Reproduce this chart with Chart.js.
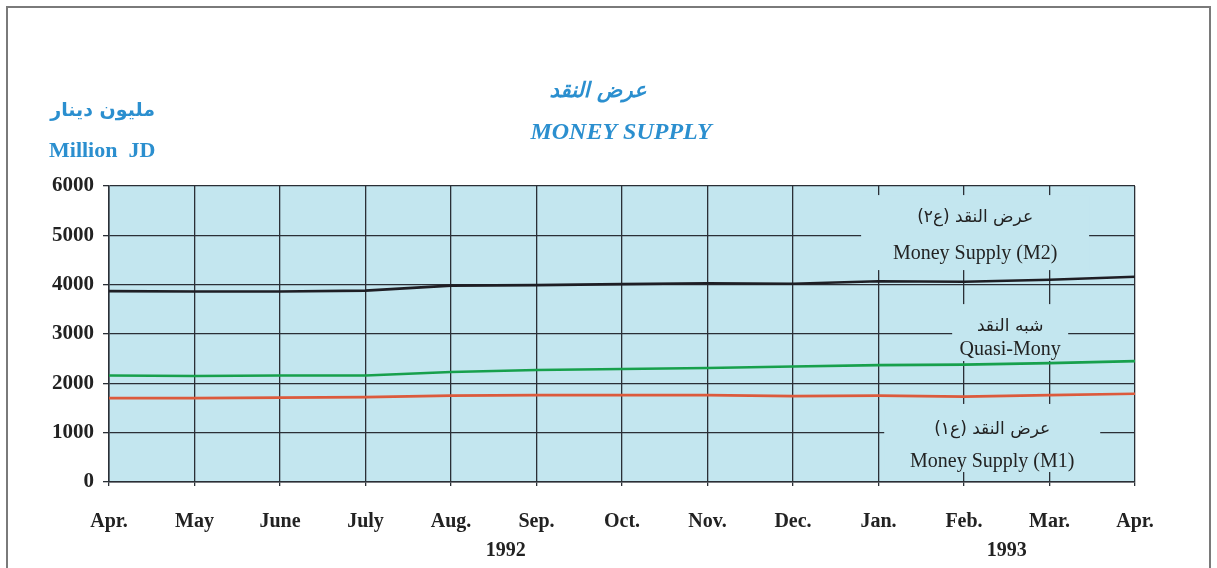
<!DOCTYPE html>
<html>
<head>
<meta charset="utf-8">
<script src="https://cdn.jsdelivr.net/npm/chart.js@4.4.1/dist/chart.umd.min.js"></script>
<style>
  html, body { margin: 0; padding: 0; background: #fff; }
  #wrap { width: 1217px; height: 568px; position: relative; }
</style>
</head>
<body>
<div id="wrap"><canvas id="chart"></canvas></div>
<script>
// Données (millions JD), avril 1992 -> avril 1993
const months = ['Apr.', 'May', 'June', 'July', 'Aug.', 'Sep.', 'Oct.', 'Nov.', 'Dec.', 'Jan.', 'Feb.', 'Mar.', 'Apr.'];
const m2Values = [3870, 3860, 3860, 3880, 3980, 3990, 4010, 4030, 4020, 4070, 4060, 4100, 4160];
const quasiValues = [2160, 2150, 2160, 2160, 2230, 2270, 2290, 2310, 2340, 2370, 2380, 2410, 2450];
const m1Values = [1700, 1700, 1710, 1720, 1750, 1760, 1760, 1760, 1740, 1750, 1730, 1760, 1790];
const yTicks = [0, 1000, 2000, 3000, 4000, 5000, 6000];
const years = [['1992', 4.64], ['1993', 10.5]];

const plotBg = '#c3e6ef';
const blue = '#2b8fcf';
const serif = '"Liberation Serif", "Times New Roman", serif';
const arabic = '"DejaVu Sans", sans-serif';

// Étiquettes des séries dans le graphique (position en index de mois / valeur)
const notes = [
    { x: 10.13, hw: 114, top: 22, bottom: 16, rows: [
        { text: 'عرض النقد (ع٢)', v: 5370, ar: true },
        { text: 'Money Supply (M2)', v: 4620 }] },
    { x: 10.54, hw: 58, top: 22, bottom: 11, rows: [
        { text: 'شبه النقد', v: 3160, ar: true },
        { text: 'Quasi-Mony', v: 2675 }] },
    { x: 10.33, hw: 108, top: 26, bottom: 10, rows: [
        { text: 'عرض النقد (ع١)', v: 1055, ar: true },
        { text: 'Money Supply (M1)', v: 405 }] }
];

const decorPlugin = {
    id: 'decor',
    beforeDraw(chart) {
        const ctx = chart.ctx;
        const a = chart.chartArea;
        ctx.save();
        ctx.fillStyle = plotBg;
        ctx.fillRect(a.left, a.top, a.right - a.left, a.bottom - a.top);
        // cadre de la page
        ctx.strokeStyle = '#7a7a7a';
        ctx.lineWidth = 2;
        ctx.beginPath();
        ctx.moveTo(7, 600);
        ctx.lineTo(7, 7);
        ctx.lineTo(1210, 7);
        ctx.lineTo(1210, 600);
        ctx.stroke();
        ctx.restore();
    },
    beforeDatasetsDraw(chart) {
        const ctx = chart.ctx;
        const xs = chart.scales.x;
        const ys = chart.scales.y;
        ctx.save();
        notes.forEach(function (n) {
            const cx = xs.getPixelForValue(n.x);
            const y1 = ys.getPixelForValue(n.rows[0].v);
            const y2 = ys.getPixelForValue(n.rows[1].v);
            ctx.fillStyle = plotBg;
            ctx.fillRect(cx - n.hw, y1 - n.top, n.hw * 2, (y2 + n.bottom) - (y1 - n.top));
            ctx.fillStyle = '#222';
            ctx.textAlign = 'center';
            ctx.textBaseline = 'middle';
            n.rows.forEach(function (r) {
                const y = ys.getPixelForValue(r.v);
                if (r.ar) {
                    ctx.direction = 'rtl';
                    ctx.font = '17px ' + arabic;
                } else {
                    ctx.direction = 'ltr';
                    ctx.font = '20px ' + serif;
                }
                ctx.fillText(r.text, cx, y);
            });
        });
        ctx.restore();
    },
    afterDraw(chart) {
        const ctx = chart.ctx;
        const xs = chart.scales.x;
        ctx.save();
        ctx.textAlign = 'center';
        ctx.textBaseline = 'middle';
        // titres
        ctx.fillStyle = blue;
        ctx.direction = 'rtl';
        ctx.font = 'italic bold 21px ' + arabic;
        ctx.fillText('عرض النقد', 598, 92);
        ctx.direction = 'ltr';
        ctx.font = 'italic bold 24px ' + serif;
        ctx.fillText('MONEY SUPPLY', 621, 133);
        // unité
        ctx.direction = 'rtl';
        ctx.textAlign = 'right';
        ctx.font = 'bold 19px ' + arabic;
        ctx.fillText('مليون دينار', 155, 111);
        ctx.direction = 'ltr';
        ctx.textAlign = 'left';
        ctx.font = 'bold 22px ' + serif;
        ctx.fillText('Million  JD', 49, 151);
        // années
        ctx.textAlign = 'center';
        ctx.fillStyle = '#222';
        ctx.font = 'bold 20px ' + serif;
        years.forEach(function (yr) {
            ctx.fillText(yr[0], xs.getPixelForValue(yr[1]), 551);
        });
        ctx.restore();
    }
};

const config = {
    type: 'line',
    data: {
        labels: months,
        datasets: [
            { label: 'Money Supply (M2)', data: m2Values, borderColor: '#1e1e24', borderWidth: 2.6 },
            { label: 'Quasi-Mony', data: quasiValues, borderColor: '#17a04c', borderWidth: 2.6 },
            { label: 'Money Supply (M1)', data: m1Values, borderColor: '#dc5a3c', borderWidth: 2.6 }
        ]
    },
    options: {
        responsive: false,
        animation: false,
        layout: { padding: { top: 186, right: 82, left: 0, bottom: 0 } },
        elements: { point: { radius: 0 }, line: { tension: 0 } },
        plugins: { legend: { display: false }, tooltip: { enabled: false }, title: { display: false } },
        scales: {
            x: {
                offset: false,
                grid: { color: '#2a2f36', lineWidth: 1.3, tickLength: 4, drawTicks: true },
                border: { color: '#2a2f36', width: 1.5 },
                ticks: {
                    color: '#222', padding: 24, maxRotation: 0, autoSkip: false,
                    font: { family: serif, size: 20, weight: 'bold' }
                },
                afterFit: function (scale) { scale.height = 86; }
            },
            y: {
                min: 0, max: 6000,
                afterBuildTicks: function (scale) { scale.ticks = yTicks.map(function (v) { return { value: v }; }); },
                grid: { color: '#2a2f36', lineWidth: 1.3, tickLength: 6 },
                border: { color: '#2a2f36', width: 1.5 },
                ticks: {
                    color: '#222', padding: 9,
                    font: { family: serif, size: 21, weight: 'bold' },
                    callback: function (v) { return String(v); }
                },
                afterFit: function (scale) { scale.width = 109; }
            }
        }
    },
    plugins: [decorPlugin]
};

const canvas = document.getElementById('chart');
canvas.width = 1217;
canvas.height = 568;
const myChart = new Chart(canvas, config);
</script>
</body>
</html>
